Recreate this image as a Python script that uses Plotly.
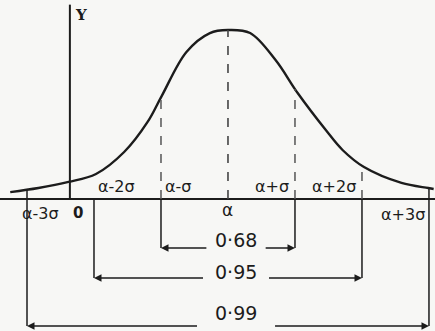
import numpy as np
import plotly.graph_objects as go

# Mean position (in sigma units from the origin) and the spread
ALPHA = 2.36
SIGMA = 1.0

# Outline of the density curve: offset from the mean (in sigma) and height relative to the peak
curve_z = [-3.25, -2.83, -2.38, -1.97, -1.55, -1.20, -0.99, -0.62, -0.27, 0.0,
           0.33, 0.71, 1.04, 1.46, 1.71, 2.03, 2.59, 2.99, 3.07]
curve_h = [0.041, 0.065, 0.101, 0.148, 0.278, 0.456, 0.609, 0.870, 0.982, 1.0,
           0.982, 0.822, 0.627, 0.408, 0.290, 0.189, 0.095, 0.065, 0.059]

# Intervals alpha ± k·sigma and the share of the distribution they hold
multiples = [1, 2, 3]
shares = ["0·68", "0·95", "0·99"]

# Tick labels along the horizontal axis
left_labels = ["α-σ", "α-2σ", "α-3σ"]
right_labels = ["α+σ", "α+2σ", "α+3σ"]
mean_label = "α"
origin_label = "0"
y_label = "Y"

INK = "#1c1c1c"
PAPER = "#f7f7f5"
FONT = "DejaVu Sans"

x = [ALPHA + z * SIGMA for z in curve_z]
fig = go.Figure()
fig.add_trace(go.Scatter(x=x, y=curve_h, mode="lines",
                         line=dict(color=INK, width=2.4, shape="spline", smoothing=1.0),
                         hoverinfo="skip", showlegend=False))


def height_at(z):
    return float(np.interp(z, curve_z, curve_h))


shapes = []
annotations = []

# axes
shapes.append(dict(type="line", xref="paper", x0=0, x1=1, y0=0, y1=0,
                   line=dict(color=INK, width=2)))
shapes.append(dict(type="line", x0=0, x1=0, y0=0, y1=1.15,
                   line=dict(color=INK, width=2)))
annotations.append(dict(x=0.04, y=1.09, text="<b>" + y_label + "</b>", showarrow=False,
                        xanchor="left", font=dict(family="DejaVu Serif", size=15, color=INK)))
annotations.append(dict(x=0.12, y=-0.08, text="<b>" + origin_label + "</b>", showarrow=False,
                        font=dict(family=FONT, size=15, color=INK)))

# mean line
shapes.append(dict(type="line", x0=ALPHA, x1=ALPHA, y0=0, y1=height_at(0),
                   line=dict(color="#444", width=1.6, dash="dash")))
annotations.append(dict(x=ALPHA, y=-0.065, text=mean_label, showarrow=False,
                        font=dict(family=FONT, size=17, color=INK)))

# bracket levels below the axis (arrow row, label row)
arrow_rows = [-0.29, -0.467, -0.751]
label_rows = [-0.24, -0.43, -0.675]
label_center = ALPHA + 0.12
gaps = [0.42, 0.47, 0.56]

for i, k in enumerate(multiples):
    xl, xr = ALPHA - k * SIGMA, ALPHA + k * SIGMA
    yl = arrow_rows[i]
    for side, xs in (("l", xl), ("r", xr)):
        top = height_at(-k if side == "l" else k)
        if k == 3:
            shapes.append(dict(type="line", x0=xs, x1=xs, y0=yl, y1=top,
                               line=dict(color=INK, width=1.5)))
        else:
            shapes.append(dict(type="line", x0=xs, x1=xs, y0=yl, y1=0,
                               line=dict(color=INK, width=1.5)))
            if not (k == 2 and side == "l"):
                shapes.append(dict(type="line", x0=xs, x1=xs, y0=0, y1=top,
                                   line=dict(color="#555", width=1.5, dash="dash")))
    # arrows from the label out to the interval ends
    for head, tail in ((xl, label_center - gaps[i]), (xr, label_center + gaps[i])):
        annotations.append(dict(x=head, y=yl, ax=tail, ay=yl, axref="x", ayref="y",
                                xref="x", yref="y", text="", showarrow=True,
                                arrowhead=2, arrowsize=1.0, arrowwidth=1.5,
                                arrowcolor=INK))
    annotations.append(dict(x=label_center, y=label_rows[i], text=shares[i], showarrow=False,
                            font=dict(family=FONT, size=19, color=INK)))

# tick labels around the axis
above = 0.075
for k, ll, rl in zip(multiples, left_labels, right_labels):
    xl, xr = ALPHA - k * SIGMA, ALPHA + k * SIGMA
    if k == 3:
        annotations.append(dict(x=xl - 0.1, y=-0.085, text=ll, showarrow=False,
                                xanchor="left", font=dict(family=FONT, size=16, color=INK)))
        annotations.append(dict(x=xr - 0.03, y=-0.09, text=rl, showarrow=False,
                                xanchor="right", font=dict(family=FONT, size=16, color=INK)))
    else:
        annotations.append(dict(x=xl + 0.03, y=above, text=ll, showarrow=False,
                                xanchor="left", font=dict(family=FONT, size=16, color=INK)))
        annotations.append(dict(x=xr - 0.06, y=above, text=rl, showarrow=False,
                                xanchor="right", font=dict(family=FONT, size=16, color=INK)))

fig.update_layout(
    width=435, height=331,
    margin=dict(l=0, r=0, t=0, b=0),
    paper_bgcolor=PAPER, plot_bgcolor=PAPER,
    xaxis=dict(range=[ALPHA - 3.403, ALPHA + 3.09], visible=False),
    yaxis=dict(range=[-0.781, 1.1775], visible=False),
    shapes=shapes, annotations=annotations,
)

fig.write_html("out.html")
